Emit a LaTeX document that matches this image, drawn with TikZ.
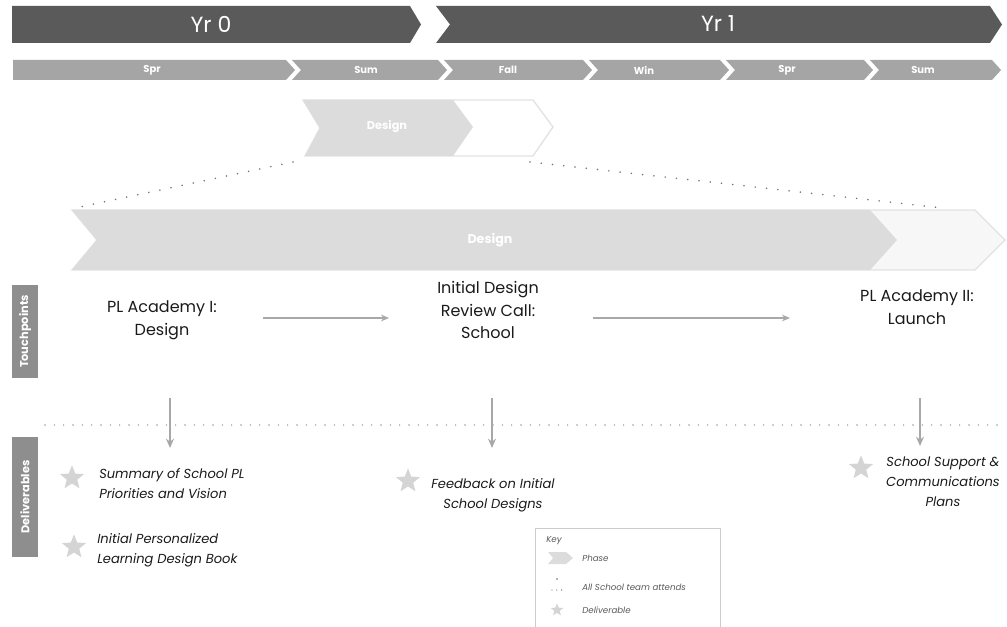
\documentclass[tikz,border=0pt]{standalone}
\usepackage{fontspec}
\setmainfont{Poppins}
\usetikzlibrary{shapes.geometric,arrows.meta,calc}
\definecolor{yrgray}{HTML}{5A5A5A}
\definecolor{seagray}{HTML}{A5A5A5}
\definecolor{phgray}{HTML}{DCDCDC}
\definecolor{phline}{HTML}{E2E2E2}
\definecolor{sidegray}{HTML}{8E8E8E}
\definecolor{txtdark}{HTML}{1A1A1A}
\definecolor{arrgray}{HTML}{A8A8A8}
\definecolor{stargray}{HTML}{D4D4D4}
\begin{document}
\begin{tikzpicture}[x=0.75pt,y=-0.75pt,
  yrtext/.style={text=white,font=\fontsize{16.5}{18}\selectfont,inner sep=0pt},
  seatext/.style={text=white,font=\fontsize{7.5}{9}\selectfont\bfseries,inner sep=0pt},
  phtext/.style={text=white,font=\fontsize{8.5}{10}\selectfont\bfseries,inner sep=0pt},
  sidebox/.style={fill=sidegray,text=white,rotate=90,minimum height=19.5pt,inner sep=0pt,font=\fontsize{8.5}{9}\selectfont\bfseries},
  tptext/.style={align=center,text=txtdark,font=\fontsize{12}{17}\selectfont,inner sep=0pt},
  deltext/.style={text=txtdark,font=\fontsize{9.8}{15}\selectfont\itshape,inner sep=0pt},
  keytext/.style={text=black!65,font=\fontsize{6.5}{8}\selectfont\itshape,inner sep=0pt,anchor=west},
  delstar/.style={star,star points=5,star point ratio=2.3,fill=stargray,minimum size=19pt,inner sep=0pt},
  dotline/.style={draw=black!55,line width=1.3pt,dash pattern=on 0pt off 8.5pt,line cap=round},
  dotline2/.style={draw=black!40,line width=1.2pt,dash pattern=on 0pt off 7pt,line cap=round},
  harr/.style={draw=arrgray,line width=0.9pt,-{Stealth[length=6pt,width=5pt]}},
  varr/.style={draw=arrgray,line width=1.2pt,-{Stealth[length=7pt,width=6pt]}}]
\useasboundingbox (0,0) rectangle (1007,627);
\clip (0,0) rectangle (1007,627);
% year bars
\fill[yrgray] (12,6) -- (410,6) -- (421,24.5) -- (410,43) -- (12,43) -- cycle;
\fill[yrgray] (436,6) -- (990,6) -- (1002,24.5) -- (990,43) -- (436,43) -- (450,24.5) -- cycle;
\node[yrtext] (yr0) at (211,24) {Yr 0};
\node[yrtext] (yr1) at (718,24) {Yr 1};
% seasons
\foreach \L/\R/\n/\lab/\lx/\nm in {13/286/0/Spr/152/s1, 292/438/9/Sum/366/s2, 444/583/9/Fall/508/s3, 589/720/9/Win/644/s4, 726/864/9/Spr/787/s5, 870/992/9/Sum/923/s6}{
  \fill[seagray] (\L,60) -- (\R,60) -- (\R+9,70) -- (\R,80) -- (\L,80) -- (\L+\n,70) -- cycle;
  \node[seatext] (\nm) at (\lx,70) {\lab};
}
% small phase chevron
\draw[phline,fill=white,line width=1pt] (303,100) -- (533,100) -- (553,127) -- (533,156) -- (305,156) -- (320,128) -- cycle;
\fill[phgray] (303,100) -- (453,100) -- (473,127) -- (453,156) -- (305,156) -- (320,128) -- cycle;
\node[phtext] (ph1) at (387,127) {Design};
% big phase chevron
\draw[phline,fill=white!97!black,line width=1pt] (72,210) -- (975,210) -- (1005,240) -- (975,270) -- (72,270) -- (97,240) -- cycle;
\fill[phgray] (72,210) -- (870,210) -- (897,240) -- (870,270) -- (72,270) -- (97,240) -- cycle;
\node[phtext,font=\fontsize{9.5}{11}\selectfont\bfseries] (ph2) at (490,240) {Design};
% zoom dotted lines
\coordinate (zl1) at (293,162); \coordinate (zl2) at (75,208);
\coordinate (zr1) at (530,162); \coordinate (zr2) at (943,208);
\draw[dotline] (zl1) -- (zl2);
\draw[dotline] (zr1) -- (zr2);
% side labels
\node[sidebox,minimum width=69.75pt] (tp) at (25,331.5) {Touchpoints};
\node[sidebox,minimum width=90pt] (dl) at (25,497) {Deliverables};
% touchpoints
\node[tptext] (t1) at (162,320) {PL Academy I:\\Design};
\node[tptext] (t2) at (488,310) {Initial Design\\Review Call:\\School};
\node[tptext] (t3) at (917,307) {PL Academy II:\\Launch};
\coordinate (h1a) at (263,318); \coordinate (h1b) at (389,318);
\coordinate (h2a) at (593,318); \coordinate (h2b) at (790,318);
\draw[harr] (h1a) -- (h1b);
\draw[harr] (h2a) -- (h2b);
% separator
\coordinate (sepa) at (45,425); \coordinate (sepb) at (1000,425);
\draw[dotline2] (sepa) -- (sepb);
% vertical arrows
\coordinate (v1a) at (170,398); \coordinate (v1b) at (170,448);
\coordinate (v2a) at (492,398); \coordinate (v2b) at (492,448);
\coordinate (v3a) at (920,398); \coordinate (v3b) at (920,446);
\draw[varr] (v1a) -- (v1b);
\draw[varr] (v2a) -- (v2b);
\draw[varr] (v3a) -- (v3b);
% deliverables
\node[delstar] (st1) at (72,478) {};
\node[deltext,anchor=west,align=left] (d1) at (99,484) {Summary of School PL\\Priorities and Vision};
\node[delstar] (st2) at (74,547) {};
\node[deltext,anchor=west,align=left] (d2) at (97,550) {Initial Personalized\\Learning Design Book};
\node[delstar] (st3) at (408,481) {};
\node[deltext,align=center] (d3) at (493,495) {Feedback on Initial\\School Designs};
\node[delstar] (st4) at (861,468) {};
\node[deltext,align=center] (d4) at (943,482) {School Support \&\\Communications\\Plans};
% legend
\draw[black!20,line width=0.6pt] (535,640) -- (535,528) -- (720,528) -- (720,640);
\node[keytext] (key) at (546,541) {Key};
\fill[phgray] (548,552) -- (566,552) -- (573,558) -- (566,564) -- (548,564) -- (553,558) -- cycle;
\node[keytext] (k1) at (582,558) {Phase};
\coordinate (kd1) at (557,579); \coordinate (kd2) at (552,590); \coordinate (kd3) at (563,590);
\fill[black!60] (kd1) circle (0.9);
\draw[dotline,line width=1pt,dash pattern=on 0pt off 3.6pt] (kd2) -- (kd3);
\node[keytext] (k2) at (582,587) {All School team attends};
\node[delstar,minimum size=10pt] (kst) at (557,610) {};
\node[keytext] (k3) at (582,610) {Deliverable};
\end{tikzpicture}
\end{document}
